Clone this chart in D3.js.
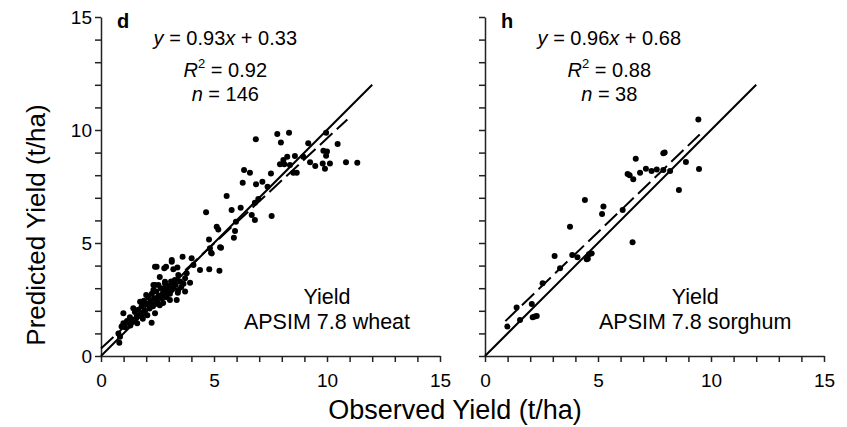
<!DOCTYPE html>
<html>
<head>
<meta charset="utf-8">
<script src="https://cdn.jsdelivr.net/npm/d3@7"></script>
<style>
    body { margin: 0; background: #fff; }
    text { font-family: "Liberation Sans", Arial, sans-serif; fill: #000; }
</style>
</head>
<body>
<div id="chart"></div>
<script>
(function () {
    "use strict";

    // observed vs predicted yield (t/ha), wheat
    var wheatPoints = [
        [6.85,9.59],[7.8,9.82],[8.32,9.88],[7.96,9.45],[9.96,9.88],[9.17,9.41],[10.47,9.38],[9.84,9.08],[10.0,9.05],[9.96,8.86],
        [10.84,8.57],[11.34,8.55],[10.13,8.52],[9.81,8.52],[9.91,8.29],[9.48,8.41],[9.25,8.57],[8.95,8.82],[8.58,8.85],[8.24,8.82],
        [8.07,8.67],[7.92,8.48],[8.11,8.48],[8.36,8.45],[8.51,8.11],[8.66,8.11],[6.33,8.23],[6.59,8.11],[7.52,8.08],[6.27,7.67],
        [6.86,7.6],[7.14,7.71],[7.37,7.49],[5.56,7.08],[6.96,6.95],[6.81,6.78],[4.65,6.36],[5.78,6.46],[6.18,6.56],[7.55,6.19],
        [6.67,6.24],[6.81,6.02],[5.97,5.94],[5.12,5.72],[5.19,5.6],[5.93,5.53],[5.88,5.23],[4.78,5.16],[5.31,4.79],
        [5.27,4.81],[4.87,4.57],[4.82,4.77],[4.9,4.54],[5.24,3.77],[4.79,3.84],[4.38,3.81],[4.09,4.03],[4.01,4.32],[3.61,4.39],
        [3.13,4.25],[3.13,4.17],[2.46,3.95],[2.39,3.95],[2.88,3.95],[2.8,3.88],[3.38,3.92],[3.2,3.84],[3.79,3.66],[3.42,3.58],
        [3.72,3.44],[3.94,3.24],[3.2,3.29],[3.27,3.36],[2.83,3.22],[2.83,3.29],[2.54,3.14],[2.39,3.14],[2.32,3.14],[3.35,2.48],
        [3.05,2.48],[1.43,2.11],[2.24,1.47],[0.84,0.85],[0.81,0.59],[0.99,1.89],[0.91,1.3],[0.77,1.0],
        [2.76,2.85],[2.32,2.92],[3.13,2.92],[3.42,2.92],[3.72,2.85],[2.46,2.55],[2.09,2.33],[1.87,2.33],[1.73,2.4],[2.17,2.18],
        [2.39,1.89],[1.87,1.89],[1.58,1.74],[1.28,1.71],[0.99,1.45],[1.06,1.27],[1.36,1.52],
        [1.15,1.55],[1.3,1.35],[1.45,1.6],[1.5,1.95],[1.6,1.45],[1.65,2.05],[1.7,1.8],[1.8,2.2],[1.85,1.65],[1.9,2.45],
        [1.95,2.0],[2.0,2.3],[2.05,1.8],[2.1,2.6],[2.15,2.1],[2.2,2.4],[2.25,2.75],[2.3,2.2],[2.35,2.55],[2.4,2.3],
        [2.45,2.85],[2.5,2.4],[2.55,2.65],[2.6,2.25],[2.65,3.0],[2.7,2.55],[2.75,2.35],[2.8,2.7],[2.85,3.05],[2.9,2.6],
        [2.95,2.85],[3.0,3.1],[3.05,2.75],[3.1,3.3],[3.2,3.0],[3.3,3.15],[3.4,2.8],[3.5,3.3],[3.55,3.05],[3.65,3.2],
        [2.6,3.5],[2.0,2.7]
    ];

    // observed vs predicted yield (t/ha), sorghum
    var sorghumPoints = [
        [9.44,10.47],[6.67,8.73],[7.89,8.97],[7.95,9.0],[6.31,8.05],[6.56,7.82],[6.86,8.11],[7.12,8.29],[7.37,8.19],[7.89,8.23],
        [8.19,8.19],[8.89,8.58],[9.47,8.27],[8.58,7.35],[4.42,6.9],[5.24,6.61],[5.18,6.28],[6.09,6.46],[3.76,5.72],[6.53,5.03],
        [3.08,4.42],[3.86,4.47],[4.09,4.37],[4.5,4.28],[4.72,4.54],[4.6,4.5],[3.32,3.88],[2.55,3.22],[1.4,2.15],[2.07,2.3],
        [2.11,1.71],[2.29,1.77],[2.2,1.75],[1.55,1.59],[0.99,1.3],[7.6,8.25],[6.4,8.0],[4.55,4.3]
    ];

    var panels = [
        { letter: "d", points: wheatPoints, slope: 0.93, intercept: 0.33, r2: "0.92", n: "146",
          fitRange: [0, 10.9], crop: "APSIM 7.8 wheat", labelAt: 10.0 },
        { letter: "h", points: sorghumPoints, slope: 0.96, intercept: 0.68, r2: "0.88", n: "38",
          fitRange: [0.9, 9.5], crop: "APSIM 7.8 sorghum", labelAt: 9.3 }
    ];
    var panelLeft = [101, 485];
    var ticks = d3.range(0, 16);

    var width = 847, height = 427;
    var svg = d3.select("#chart").append("svg")
        .attr("width", width)
        .attr("height", height);

    var y = d3.scaleLinear().domain([0, 15]).range([356, 17]);

    panels.forEach(function (p, i) {
        var x = d3.scaleLinear().domain([0, 15]).range([panelLeft[i], panelLeft[i] + 339]);
        var g = svg.append("g");

        // axes
        var xAxis = g.append("g")
            .attr("transform", "translate(0," + y(0) + ")")
            .call(d3.axisBottom(x).tickValues(ticks).tickSize(6).tickSizeOuter(0)
                .tickFormat(function (d) { return d % 5 === 0 ? d : ""; }));
        var yAxis = g.append("g")
            .attr("transform", "translate(" + x(0) + ",0)")
            .call(d3.axisLeft(y).tickValues(ticks).tickSize(6).tickSizeOuter(0)
                .tickFormat(function (d) { return (i === 0 && d % 5 === 0) ? d : ""; }));
        [xAxis, yAxis].forEach(function (a) {
            a.selectAll("path, line").attr("stroke", "#222").attr("stroke-width", 1.5);
            a.selectAll("text").style("font-size", "19px").attr("fill", "#000");
        });
        xAxis.selectAll("text").attr("dy", "1.15em");
        yAxis.selectAll("text").attr("x", -9);

        // 1:1 line
        g.append("line")
            .attr("x1", x(0)).attr("y1", y(0))
            .attr("x2", x(12)).attr("y2", y(12))
            .attr("stroke", "#000").attr("stroke-width", 2);

        // regression line
        g.append("line")
            .attr("x1", x(p.fitRange[0])).attr("y1", y(p.slope * p.fitRange[0] + p.intercept))
            .attr("x2", x(p.fitRange[1])).attr("y2", y(p.slope * p.fitRange[1] + p.intercept))
            .attr("stroke", "#000").attr("stroke-width", 2)
            .attr("stroke-dasharray", "17,6");

        // points
        g.selectAll("circle")
            .data(p.points)
            .enter()
            .append("circle")
            .attr("cx", function (d) { return x(d[0]); })
            .attr("cy", function (d) { return y(d[1]); })
            .attr("r", 3)
            .attr("fill", "#000");

        // panel letter
        g.append("text")
            .attr("x", x(0) + 16).attr("y", 28)
            .style("font-size", "20px").style("font-weight", "bold")
            .text(p.letter);

        // stats
        var cx = x(5.5);
        var eq = g.append("text").attr("x", cx).attr("y", 45)
            .style("font-size", "20px").style("text-anchor", "middle");
        eq.append("tspan").style("font-style", "italic").text("y");
        eq.append("tspan").text(" = " + p.slope.toFixed(2));
        eq.append("tspan").style("font-style", "italic").text("x");
        eq.append("tspan").text(" + " + p.intercept.toFixed(2));

        var r2 = g.append("text").attr("x", cx).attr("y", 77)
            .style("font-size", "20px").style("text-anchor", "middle");
        r2.append("tspan").style("font-style", "italic").text("R");
        r2.append("tspan").attr("dy", -9).style("font-size", "13px").text("2");
        r2.append("tspan").attr("dy", 9).text(" = " + p.r2);

        var nt = g.append("text").attr("x", cx).attr("y", 101)
            .style("font-size", "20px").style("text-anchor", "middle");
        nt.append("tspan").style("font-style", "italic").text("n");
        nt.append("tspan").text(" = " + p.n);

        // crop label
        g.append("text").attr("x", x(p.labelAt)).attr("y", 304)
            .style("font-size", "21.5px").style("text-anchor", "middle")
            .text("Yield");
        g.append("text").attr("x", x(p.labelAt)).attr("y", 329)
            .style("font-size", "21.5px").style("text-anchor", "middle")
            .text(p.crop);
    });

    // axis titles
    svg.append("text")
        .attr("transform", "translate(45,225) rotate(-90)")
        .style("font-size", "26px").style("text-anchor", "middle")
        .text("Predicted Yield (t/ha)");
    svg.append("text")
        .attr("x", 455).attr("y", 419)
        .style("font-size", "27px").style("text-anchor", "middle")
        .text("Observed Yield (t/ha)");
})();
</script>
</body>
</html>
